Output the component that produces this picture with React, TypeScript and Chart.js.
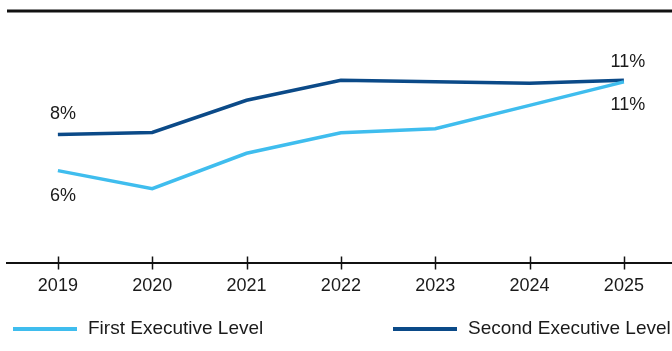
import React, { useEffect, useRef } from "react";
import { Chart, registerables } from "chart.js";

Chart.register(...registerables);

const years = ["2019", "2020", "2021", "2022", "2023", "2024", "2025"];
const firstLevel = [6.0, 5.0, 6.96, 8.09, 8.32, 9.61, 10.91];
const secondLevel = [8.0, 8.11, 9.89, 11.0, 10.91, 10.83, 11.0];
const seriesNames = ["First Executive Level", "Second Executive Level"];
const seriesColors = ["#3FBDEE", "#0B4A88"];

const FONT = "'Liberation Sans', Arial, Helvetica, sans-serif";
const TEXT = "#1a1a1a";

const decorPlugin = {
  id: "decor",
  afterDraw(chart: any) {
    const ctx = chart.ctx as CanvasRenderingContext2D;
    const { left, right, top, bottom } = chart.chartArea;
    ctx.save();
    ctx.strokeStyle = "#111111";
    // top rule
    ctx.lineWidth = 3;
    ctx.beginPath();
    ctx.moveTo(left + 1, top);
    ctx.lineTo(right, top);
    ctx.stroke();
    // axis line
    ctx.lineWidth = 2;
    ctx.beginPath();
    ctx.moveTo(left, bottom);
    ctx.lineTo(right, bottom);
    ctx.stroke();
    // tick marks crossing the axis
    const xs = chart.scales.x;
    ctx.lineWidth = 1.5;
    xs.ticks.forEach((t: any) => {
      const px = Math.round(xs.getPixelForValue(t.value)) + 0.5;
      ctx.beginPath();
      ctx.moveTo(px, bottom - 6.5);
      ctx.lineTo(px, bottom + 6.5);
      ctx.stroke();
    });

    // end-point data labels
    ctx.fillStyle = TEXT;
    ctx.font = `18px ${FONT}`;
    ctx.textAlign = "center";
    ctx.textBaseline = "middle";
    chart.data.datasets.forEach((ds: any, di: number) => {
      const meta = chart.getDatasetMeta(di);
      const n = ds.data.length;
      [0, n - 1].forEach((idx) => {
        const pt = meta.data[idx];
        const v = ds.data[idx].y;
        const above = di === 1;
        const dy = above ? (idx === 0 ? -20 : -18) : idx === 0 ? 25 : 23;
        const dx = idx === 0 ? 5 : 4;
        ctx.fillText(`${Math.round(v)}%`, pt.x + dx, pt.y + dy);
      });
    });

    // legend
    const legendX = [13, 393];
    ctx.textAlign = "left";
    ctx.font = `19px ${FONT}`;
    chart.data.datasets.forEach((ds: any, di: number) => {
      const x0 = legendX[di];
      ctx.strokeStyle = ds.borderColor;
      ctx.lineWidth = 4;
      ctx.beginPath();
      ctx.moveTo(x0, 329);
      ctx.lineTo(x0 + 64, 329);
      ctx.stroke();
      ctx.fillStyle = TEXT;
      ctx.fillText(ds.label, x0 + 75, 328.5);
    });
    ctx.restore();
  },
};

export default function App() {
  const ref = useRef<HTMLCanvasElement | null>(null);

  useEffect(() => {
    document.body.style.margin = "0";
    const canvas = ref.current;
    if (!canvas) return;
    const chart = new Chart(canvas, {
      type: "line",
      data: {
        datasets: [
          {
            label: seriesNames[0],
            data: firstLevel.map((v, i) => ({ x: i, y: v })),
            borderColor: seriesColors[0],
            backgroundColor: seriesColors[0],
            borderWidth: 3.5,
            pointRadius: 0,
            tension: 0,
          },
          {
            label: seriesNames[1],
            data: secondLevel.map((v, i) => ({ x: i, y: v })),
            borderColor: seriesColors[1],
            backgroundColor: seriesColors[1],
            borderWidth: 3.5,
            pointRadius: 0,
            tension: 0,
          },
        ],
      },
      options: {
        responsive: false,
        animation: false,
        events: [],
        layout: { padding: { left: 6, right: 0, top: 11, bottom: 42.4 } },
        plugins: {
          legend: { display: false },
          tooltip: { enabled: false },
          title: { display: false },
        },
        scales: {
          x: {
            type: "linear",
            min: -0.55,
            max: 6.51,
            grid: { display: false, drawTicks: false },
            border: { display: false },
            ticks: {
              stepSize: 1,
              includeBounds: false,
              autoSkip: false,
              maxRotation: 0,
              padding: 12,
              color: TEXT,
              font: { family: FONT, size: 18 },
              callback: (value: any) => years[Number(value)] ?? "",
            },
          },
          y: {
            display: false,
            min: 0.89,
            max: 14.83,
          },
        },
      },
      plugins: [decorPlugin],
    });
    return () => chart.destroy();
  }, []);

  return (
    <div style={{ width: 672, height: 351 }}>
      <canvas ref={ref} width={672} height={351} />
    </div>
  );
}
